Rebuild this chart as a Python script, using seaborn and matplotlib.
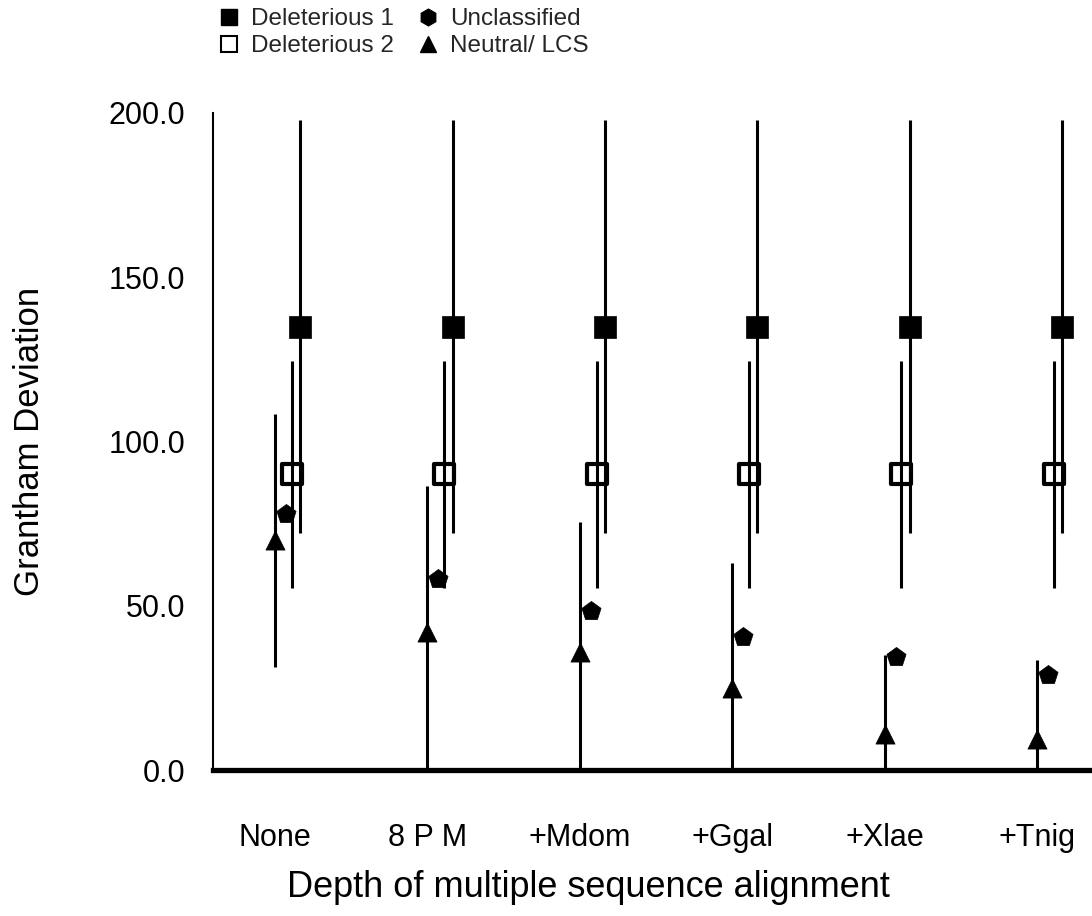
import matplotlib
matplotlib.use("Agg")
import matplotlib.pyplot as plt
from matplotlib.lines import Line2D
import seaborn as sns
import pandas as pd
import numpy as np

categories = ["None", "8 P M", "+Mdom", "+Ggal", "+Xlae", "+Tnig"]

del1_mean = [135, 135, 135, 135, 135, 135]
del1_err = [63, 63, 63, 63, 63, 63]
del2_mean = [90, 90, 90, 90, 90, 90]
del2_err = [34.5, 34.5, 34.5, 34.5, 34.5, 34.5]
uncl_mean = [78, 58, 48.5, 40.5, 34.5, 29]
neut_mean = [70, 42, 36, 25, 11, 9.5]
neut_err = [38.5, 44.5, 39.5, 38, 24, 24]

sns.set_theme(style="white")
plt.rcParams["font.family"] = ["Liberation Sans", "DejaVu Sans"]

fig = plt.figure(figsize=(10.92, 9.16), dpi=100)
ax = fig.add_axes([213/1092, 1-770/916, 1-213/1092, (770-113)/916])

idx = np.arange(len(categories))
series = [
    ("Neutral/ LCS", neut_mean, neut_err, 0.0, "^", "black", 190),
    ("Unclassified", uncl_mean, None, 0.072, "p", "black", 210),
    ("Deleterious 2", del2_mean, del2_err, 0.11, "s", "white", 210),
    ("Deleterious 1", del1_mean, del1_err, 0.165, "s", "black", 240),
]
for name, mean, err, off, mk, fc, s in series:
    df = pd.DataFrame({"x": idx + off, "y": mean})
    if err is not None:
        ax.errorbar(df["x"], df["y"], yerr=err, fmt="none", ecolor="black",
                    elinewidth=2.2, capsize=0, zorder=3)
    sns.scatterplot(data=df, x="x", y="y", marker=mk, s=s, color=fc,
                    edgecolor="black", linewidth=3.0 if fc == "white" else 0.5,
                    ax=ax, zorder=2, legend=False)

ax.set_xlim(-0.407, 5.361)
ax.set_ylim(0, 200)
ax.set_yticks([0, 50, 100, 150, 200])
ax.set_yticklabels([f"{v:.1f}" for v in [0, 50, 100, 150, 200]])
ax.set_xticks(idx)
ax.set_xticklabels(categories)
ax.tick_params(axis="both", length=0, labelsize=22, colors="black")
ax.tick_params(axis="x", pad=38)
ax.tick_params(axis="y", pad=20)
for side in ["top", "right"]:
    ax.spines[side].set_visible(False)
ax.spines["left"].set_linewidth(1.5)
ax.spines["left"].set_color("black")
ax.spines["bottom"].set_linewidth(3.8)
ax.spines["bottom"].set_color("black")
ax.set_xlabel("Depth of multiple sequence alignment", fontsize=26, color="black")
ax.set_ylabel("Grantham Deviation", fontsize=25, color="black")
ax.xaxis.set_label_coords((588 - 213) / 879, -(870 - 770) / 657)
ax.yaxis.set_label_coords(-(213 - 46) / 879, 0.5)

handles = [
    Line2D([], [], ls="none", marker="s", ms=12, mfc="black", mec="black"),
    Line2D([], [], ls="none", marker="s", ms=12, mfc="white", mec="black", mew=1.5),
    Line2D([], [], ls="none", marker="h", ms=12, mfc="black", mec="black"),
    Line2D([], [], ls="none", marker="^", ms=12, mfc="black", mec="black"),
]
labels = ["Deleterious 1", "Deleterious 2", "Unclassified", "Neutral/ LCS"]
fig.legend(handles, labels, ncol=2, loc="upper left", bbox_to_anchor=(0.19, 1.0015),
           frameon=False, fontsize=17.5, handlelength=1.0, handletextpad=0.4,
           columnspacing=0.9, labelspacing=0.2, borderaxespad=0)

fig.savefig("out.png", dpi=100)
